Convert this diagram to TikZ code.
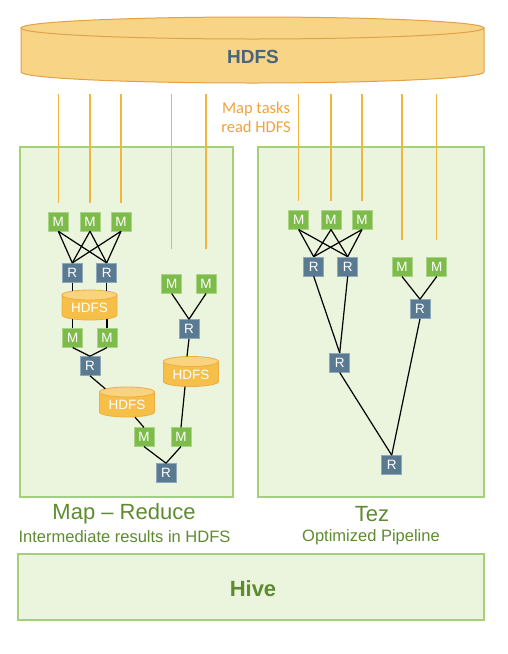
\documentclass[tikz,border=0pt]{standalone}
\usepackage{fontspec}
\setmainfont{Liberation Sans}
\newfontfamily\calibfont{Carlito}
\usetikzlibrary{calc}
\definecolor{panelfill}{HTML}{EBF4DD}
\definecolor{panelline}{HTML}{A3D078}
\definecolor{mfill}{HTML}{7DBB4B}
\definecolor{mline}{HTML}{A9D584}
\definecolor{rfill}{HTML}{5A7A91}
\definecolor{rline}{HTML}{90A8BA}
\definecolor{txtgreen}{HTML}{5E8B30}
\definecolor{bigfill}{HTML}{F8D486}
\definecolor{bigline}{HTML}{E2A048}
\definecolor{hdfstext}{HTML}{4A6479}
\definecolor{orline}{HTML}{F2B63E}
\definecolor{ortext}{HTML}{EDA33C}
\definecolor{cylbodyc}{HTML}{F5BF48}
\definecolor{cyltopc}{HTML}{F9D37E}
\definecolor{cyllinec}{HTML}{EDAE3E}
\newcommand\dbcyl[3]{%
  \filldraw[fill=cylbodyc, draw=cyllinec, line width=0.8pt]
    (#1-27.5,#2-10) -- (#1-27.5,#2+10)
    arc[start angle=180, end angle=360, x radius=27.5pt, y radius=5pt]
    -- (#1+27.5,#2-10) -- cycle;
  \filldraw[fill=cyltopc, draw=cyllinec, line width=0.8pt]
    (#1,#2-10) ellipse[x radius=27.5pt, y radius=5pt];
  \node[cyltext] (#3) at (#1,#2) {HDFS};}
\begin{document}
\begin{tikzpicture}[x=1pt, y=-1pt,
  mbox/.style={rectangle, fill=mfill, draw=mline, line width=0.6pt,
    minimum width=20pt, minimum height=18.5pt, inner sep=0pt, text=white,
    font=\fontsize{13.5}{13.5}\selectfont},
  rbox/.style={rectangle, fill=rfill, draw=rline, line width=0.6pt,
    minimum width=20pt, minimum height=19pt, inner sep=0pt, text=white,
    font=\fontsize{13.5}{13.5}\selectfont},
  cyltext/.style={rectangle, minimum width=55pt, minimum height=30pt,
    inner sep=0pt, text=white, font=\fontsize{13.5}{13.5}\selectfont,
    text height=16pt, text depth=0.3pt},
  link/.style={line width=1.2pt, black},
  oline/.style={draw=orline, line width=1.4pt},
  panel/.style={fill=panelfill, draw=panelline, line width=1.2pt},
  lbl/.style={text=txtgreen, inner sep=0pt}]
\useasboundingbox (0,0) rectangle (507,654);

% big HDFS cylinder
\filldraw[fill=bigfill, draw=bigline, line width=1pt]
  (21,28) -- (21,72) arc[start angle=180, end angle=360, x radius=231.5pt, y radius=11pt]
  -- (484,28) -- cycle;
\filldraw[fill=bigfill, draw=bigline, line width=1pt]
  (252.5,28) ellipse[x radius=231.5pt, y radius=11pt];
\node[text=hdfstext, font=\bfseries\fontsize{19}{19}\selectfont, inner sep=0pt]
  (hdfs) at (253,57) {HDFS};
\coordinate (rd) at (0,94);

\node[text=ortext, font=\calibfont\fontsize{16.5}{19}\selectfont, align=center, inner sep=0pt]
  (note) at (256,117) {Map tasks\\read HDFS};

% panels
\node[panel, minimum width=213pt, minimum height=350pt, inner sep=0pt] (lp) at (126.5,322) {};
\node[panel, minimum width=226pt, minimum height=350pt, inner sep=0pt] (rp) at (371,322) {};
\node[panel, minimum width=466pt, minimum height=66pt, inner sep=0pt] (hive) at (251,587)
  {};
\node[text=txtgreen, font=\bfseries\fontsize{22}{22}\selectfont, inner sep=0pt] (hivet) at (253,589) {Hive};

\node[lbl, font=\fontsize{22}{22}\selectfont] (mrt) at (124,514) {Map -- Reduce};
\node[lbl, font=\fontsize{16.5}{16.5}\selectfont] (mrs) at (124.5,537) {Intermediate results in HDFS};
\node[lbl, font=\fontsize{22}{22}\selectfont] (tzt) at (372,514) {Tez};
\node[lbl, font=\fontsize{16.5}{16.5}\selectfont] (tzs) at (371,537) {Optimized Pipeline};

% ---------- Map-Reduce panel ----------
\node[mbox] (a1) at (58.3,221.7) {M};
\node[mbox] (a2) at (90,221.7) {M};
\node[mbox] (a3) at (121,221.7) {M};
\node[rbox] (b1) at (72.3,272.7) {R};
\node[rbox] (b2) at (106.7,272.7) {R};
\dbcyl{89.5}{305}{c1}
\node[mbox] (a4) at (72.7,338) {M};
\node[mbox] (a5) at (107,338) {M};
\node[rbox] (b3) at (90,366) {R};
\dbcyl{127}{402}{c2}
\node[mbox] (a6) at (144,437) {M};
\node[mbox] (a7) at (181,437) {M};
\node[rbox] (b4) at (166,473) {R};
\node[mbox] (a8) at (171.7,284) {M};
\node[mbox] (a9) at (206,284) {M};
\node[rbox] (b5) at (189,329) {R};
\dbcyl{191}{371.5}{c3}

\foreach \m in {a1,a2,a3}{
  \draw[link] (\m.south) -- (b1.north);
  \draw[link] (\m.south) -- (b2.north);
}
\draw[link] (b1.south) -- ($(b1 |- c1.north)+(0,1)$);
\draw[link] (b2.south) -- ($(b2 |- c1.north)+(0,1)$);
\draw[link] (a4.north) -- ($(a4 |- c1.south)+(0,-1)$);
\draw[link] (a5.north) -- ($(a5 |- c1.south)+(0,-1)$);
\draw[link] (a4.south) -- (b3.north);
\draw[link] (a5.south) -- (b3.north);
\draw[link] (b3.south) -- ($(c2.north west)+(6,2)$);
\draw[link] ($(c2.south)+(8,0)$) -- (a6.north);
\draw[link] (a6.south) -- (b4.north);
\draw[link] (a7.south) -- (b4.north);
\draw[link] (a8.south) -- (b5.north);
\draw[link] (a9.south) -- (b5.north);
\draw[link] (b5.south) -- ($(c3.north)+(-4,0)$);
\draw[link] ($(c3.south)+(-6,0)$) -- (a7.north);

% ---------- Tez panel ----------
\node[mbox] (m1) at (298.7,220) {M};
\node[mbox] (m2) at (331,220) {M};
\node[mbox] (m3) at (362,220) {M};
\node[rbox] (r1) at (313.7,266.5) {R};
\node[rbox] (r2) at (347.7,266.5) {R};
\node[mbox] (m4) at (402,267) {M};
\node[mbox] (m5) at (436.7,267) {M};
\node[rbox] (r3) at (420,309) {R};
\node[rbox] (r4) at (339.7,362.7) {R};
\node[rbox] (r5) at (391.7,465) {R};

\foreach \m in {m1,m2,m3}{
  \draw[link] (\m.south) -- (r1.north);
  \draw[link] (\m.south) -- (r2.north);
}
\draw[link] (m4.south) -- (r3.north);
\draw[link] (m5.south) -- (r3.north);
\draw[link] (r1.south) -- (r4.north);
\draw[link] (r2.south) -- (r4.north);
\draw[link] (r4.south) -- (r5.north);
\draw[link] (r3.south) -- (r5.north);

% ---------- orange read lines ----------
\foreach \m in {a1,a2,a3,m1,m2,m3}{
  \draw[oline] (\m |- rd) -- ($(\m.north)+(0,-9)$);
}
\foreach \m in {a8,a9}{
  \draw[oline] (\m |- rd) -- ($(\m.north)+(0,-25)$);
}
\foreach \m in {m4,m5}{
  \draw[oline] (\m |- rd) -- ($(\m.north)+(0,-17)$);
}
\end{tikzpicture}
\end{document}
